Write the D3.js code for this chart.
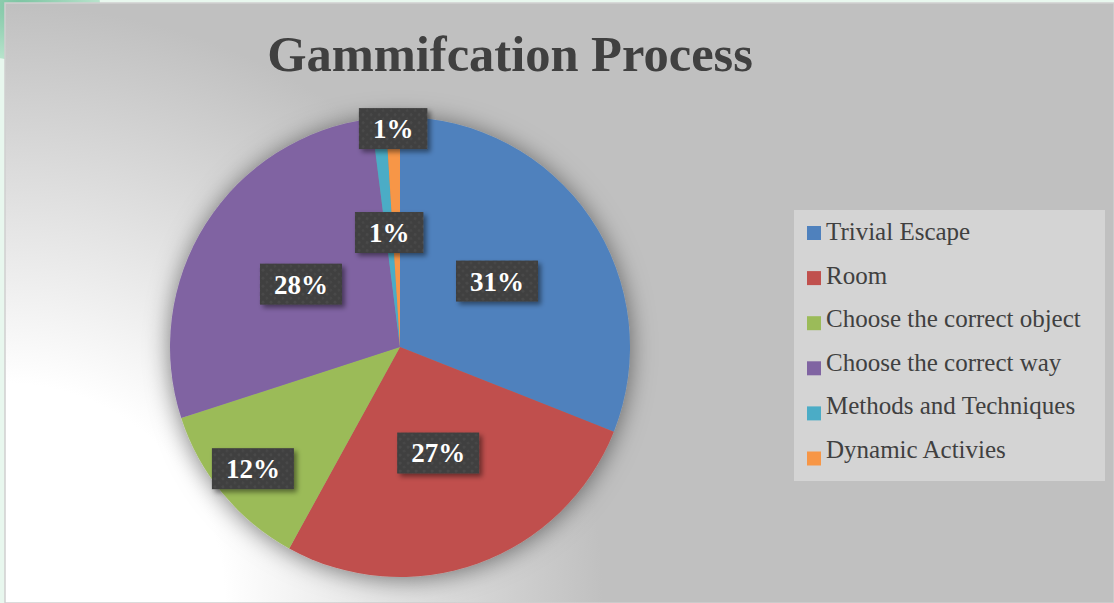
<!DOCTYPE html>
<html>
<head>
<meta charset="utf-8">
<script src="https://cdn.jsdelivr.net/npm/d3@7"></script>
<style>
  html, body { margin: 0; padding: 0; background: #e8f7ee; }
  svg { display: block; }
</style>
</head>
<body>
<svg id="chart" width="1114" height="603"></svg>
<script>
// ---- data ----
const categories = ["Trivial Escape", "Room", "Choose the correct object", "Choose the correct way", "Methods and Techniques", "Dynamic Activies"];
const values = [31, 27, 12, 28, 1, 1];
const valueLabels = ["31%", "27%", "12%", "28%", "1%", "1%"];
const colors = ["#4f81bd", "#c0504d", "#9bbb59", "#8064a2", "#4bacc6", "#f79646"];
const title = "Gammifcation Process";

// ---- layout / style ----
const W = 1114, H = 603;
const cx = 400, cy = 347, R = 230;
const labelRadiusFrac = [0.51, 0.49, 0.83, 0.51, 0.50, 0.95];
const serif = "'Liberation Serif', 'DejaVu Serif', serif";

const svg = d3.select("#chart");
const defs = svg.append("defs");

// background gradient (from bottom-left corner)
const bg = defs.append("radialGradient").attr("id", "bgGrad")
  .attr("gradientUnits", "userSpaceOnUse")
  .attr("cx", 5).attr("cy", 603).attr("r", 610);
bg.append("stop").attr("offset", "0.36").attr("stop-color", "#ffffff");
bg.append("stop").attr("offset", "0.98").attr("stop-color", "#c0c0c0");

// corner green blob gradient
const gb = defs.append("radialGradient").attr("id", "blob");
gb.append("stop").attr("offset", "0").attr("stop-color", "#7cc4a2");
gb.append("stop").attr("offset", "1").attr("stop-color", "#b8e3cc");

// pie halo shadow
const f1 = defs.append("filter").attr("id", "pieShadow")
  .attr("x", "-30%").attr("y", "-30%").attr("width", "160%").attr("height", "160%");
f1.append("feDropShadow").attr("dx", 0).attr("dy", 2).attr("stdDeviation", 12)
  .attr("flood-color", "#000").attr("flood-opacity", 0.5);

// label shadow
const f2 = defs.append("filter").attr("id", "lblShadow")
  .attr("x", "-20%").attr("y", "-20%").attr("width", "150%").attr("height", "160%");
f2.append("feDropShadow").attr("dx", 3).attr("dy", 3).attr("stdDeviation", 2.5)
  .attr("flood-color", "#000").attr("flood-opacity", 0.45);

// label texture
const pat = defs.append("pattern").attr("id", "tex")
  .attr("patternUnits", "userSpaceOnUse").attr("width", 8).attr("height", 8);
pat.append("rect").attr("width", 8).attr("height", 8).attr("fill", "#3f3f3f");
pat.append("circle").attr("cx", 2).attr("cy", 2).attr("r", 1.6).attr("fill", "#4a4a4a");
pat.append("circle").attr("cx", 6).attr("cy", 6).attr("r", 1.6).attr("fill", "#474747");

// outer frame
svg.append("ellipse").attr("cx", 20).attr("cy", 5).attr("rx", 80).attr("ry", 55).attr("fill", "url(#blob)");
svg.append("rect").attr("x", 5).attr("y", 3).attr("width", W - 5).attr("height", H - 3)
  .attr("fill", "url(#bgGrad)").attr("stroke", "#cfcfcf").attr("stroke-width", 1.5);

// title
svg.append("text").attr("x", 510).attr("y", 71).attr("text-anchor", "middle")
  .attr("font-family", serif).attr("font-weight", "bold").attr("font-size", 50.5)
  .attr("fill", "#404040").text(title);

// pie
const pie = d3.pie().sort(null).value(d => d)(values);
const arc = d3.arc().innerRadius(0).outerRadius(R);
const g = svg.append("g").attr("transform", `translate(${cx},${cy})`);
g.append("g").attr("filter", "url(#pieShadow)")
  .selectAll("path").data(pie).join("path")
  .attr("d", arc).attr("fill", (d, i) => colors[i]);

// labels
const lg = g.append("g");
pie.forEach((d, i) => {
  const lr = R * labelRadiusFrac[i];
  const [x, y] = d3.arc().innerRadius(lr).outerRadius(lr).centroid(d);
  const grp = lg.append("g").attr("transform", `translate(${x},${y})`);
  const box = grp.append("rect").attr("fill", "url(#tex)").attr("filter", "url(#lblShadow)");
  const t = grp.append("text").attr("text-anchor", "middle").attr("dy", "0.35em")
    .attr("font-family", serif).attr("font-weight", "bold").attr("font-size", 27)
    .attr("fill", "#ffffff").text(valueLabels[i]);
  const w = t.node().getComputedTextLength() + 28;
  box.attr("x", -w / 2).attr("y", -20.5).attr("width", w).attr("height", 41);
});

// legend
const leg = svg.append("g");
leg.append("rect").attr("x", 794).attr("y", 210).attr("width", 311).attr("height", 271)
  .attr("fill", "#d4d4d4");
categories.forEach((c, i) => {
  const y0 = 226 + i * 45.1;
  leg.append("rect").attr("x", 807).attr("y", y0).attr("width", 14).attr("height", 14)
    .attr("fill", colors[i]);
  leg.append("text").attr("x", 826).attr("y", 240 + i * 43.6)
    .attr("font-family", serif).attr("font-size", 25).attr("fill", "#404040").text(c);
});
</script>
</body>
</html>
